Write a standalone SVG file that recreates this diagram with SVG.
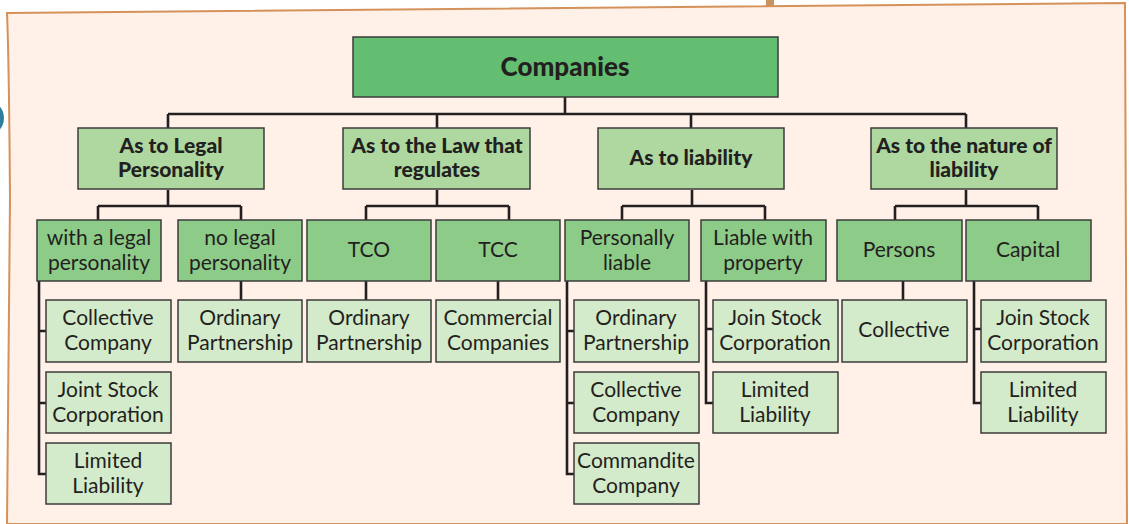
<svg xmlns="http://www.w3.org/2000/svg" width="1129" height="524" viewBox="0 0 1129 524">
  <style>
    .box { stroke: #3b3b3b; stroke-width: 1.5; }
    .root { fill: #63be72; }
    .l1 { fill: #aed8a0; }
    .l2 { fill: #8dcb88; }
    .l3 { fill: #d3ebcb; }
    text { font-family: Lato, "Open Sans", "Liberation Sans", sans-serif; fill: #231f20; text-anchor: middle; }
    .t { font-size: 21px; }
    .b { font-size: 21px; font-weight: 900; }
    .h { font-size: 26px; font-weight: 900; }
    .conn { fill: none; stroke: #231f20; stroke-width: 2.6; stroke-linejoin: miter; }
  </style>

  <!-- white page -->
  <rect x="0" y="0" width="1129" height="524" fill="#ffffff"/>
  <!-- tab above the panel -->
  <rect x="766" y="0" width="8" height="10" fill="#c8935e"/>
  <!-- panel background -->
  <path d="M7,13 L1125,3 L1127,524 L7,524 Q9,300 10,200 Q9,60 7,13 Z" fill="#fff0e8" stroke="#d4925a" stroke-width="2"/>
  <!-- blue marker at the left edge -->
  <circle cx="-14" cy="118" r="18" fill="#2e7e9c"/>

  <!-- connectors -->
  <g id="connectors" class="conn">
    <path d="M565,97 V114 M168,114 H966 M168,114 V128 M437,114 V128 M691,114 V128 M966,114 V128"/>
    <path d="M168,190 V206 M98,206 H241 M98,206 V220 M241,206 V220"/>
    <path d="M437,190 V206 M366,206 H509 M366,206 V220 M509,206 V220"/>
    <path d="M692,190 V206 M622,206 H765 M622,206 V220 M765,206 V220"/>
    <path d="M966,190 V206 M895,206 H1038 M895,206 V220 M1038,206 V220"/>
    <path d="M39,281 V474 H46 M39,331 H46 M39,403 H46"/>
    <path d="M241,281 V300"/>
    <path d="M366,281 V300"/>
    <path d="M498,281 V300"/>
    <path d="M567,281 V474 H574 M567,331 H574 M567,403 H574"/>
    <path d="M706,281 V403 H713 M706,329 H713"/>
    <path d="M903,281 V300"/>
    <path d="M974,281 V403 H981 M974,329 H981"/>
  </g>

  <!-- root -->
  <g id="companies">
    <rect class="box root" x="353" y="37" width="425" height="60"/>
    <text class="h" x="565" y="76">Companies</text>
  </g>

  <!-- first level -->
  <g id="legal-personality">
    <rect class="box l1" x="78" y="128" width="186" height="61"/>
    <text class="b" x="171" y="153">As to Legal</text>
    <text class="b" x="171" y="177">Personality</text>
  </g>
  <g id="law-regulates">
    <rect class="box l1" x="343" y="128" width="187" height="61"/>
    <text class="b" x="437" y="153">As to the Law that</text>
    <text class="b" x="437" y="177">regulates</text>
  </g>
  <g id="liability">
    <rect class="box l1" x="598" y="128" width="186" height="61"/>
    <text class="b" x="691" y="165">As to liability</text>
  </g>
  <g id="nature-liability">
    <rect class="box l1" x="871" y="128" width="186" height="61"/>
    <text class="b" x="964" y="153">As to the nature of</text>
    <text class="b" x="964" y="177">liability</text>
  </g>

  <!-- second level -->
  <g id="with-legal">
    <rect class="box l2" x="37" y="220" width="124" height="61"/>
    <text class="t" x="99" y="245">with a legal</text>
    <text class="t" x="99" y="270">personality</text>
  </g>
  <g id="no-legal">
    <rect class="box l2" x="178" y="220" width="124" height="61"/>
    <text class="t" x="240" y="245">no legal</text>
    <text class="t" x="240" y="270">personality</text>
  </g>
  <g id="tco">
    <rect class="box l2" x="307" y="220" width="124" height="61"/>
    <text class="t" x="369" y="257">TCO</text>
  </g>
  <g id="tcc">
    <rect class="box l2" x="436" y="220" width="124" height="61"/>
    <text class="t" x="498" y="257">TCC</text>
  </g>
  <g id="personally-liable">
    <rect class="box l2" x="565" y="220" width="124" height="61"/>
    <text class="t" x="627" y="245">Personally</text>
    <text class="t" x="627" y="270">liable</text>
  </g>
  <g id="liable-property">
    <rect class="box l2" x="701" y="220" width="125" height="61"/>
    <text class="t" x="763" y="245">Liable with</text>
    <text class="t" x="763" y="270">property</text>
  </g>
  <g id="persons">
    <rect class="box l2" x="837" y="220" width="125" height="61"/>
    <text class="t" x="899" y="257">Persons</text>
  </g>
  <g id="capital">
    <rect class="box l2" x="966" y="220" width="125" height="61"/>
    <text class="t" x="1028" y="257">Capital</text>
  </g>

  <!-- third level: with a legal personality -->
  <g id="lp-collective">
    <rect class="box l3" x="46" y="300" width="125" height="62"/>
    <text class="t" x="108" y="325">Collective</text>
    <text class="t" x="108" y="350">Company</text>
  </g>
  <g id="lp-joint-stock">
    <rect class="box l3" x="46" y="372" width="125" height="61"/>
    <text class="t" x="108" y="397">Joint Stock</text>
    <text class="t" x="108" y="422">Corporation</text>
  </g>
  <g id="lp-limited">
    <rect class="box l3" x="46" y="443" width="125" height="61"/>
    <text class="t" x="108" y="468">Limited</text>
    <text class="t" x="108" y="493">Liability</text>
  </g>

  <!-- third level: single children -->
  <g id="nl-ordinary">
    <rect class="box l3" x="178" y="300" width="124" height="62"/>
    <text class="t" x="240" y="325">Ordinary</text>
    <text class="t" x="240" y="350">Partnership</text>
  </g>
  <g id="tco-ordinary">
    <rect class="box l3" x="307" y="300" width="124" height="62"/>
    <text class="t" x="369" y="325">Ordinary</text>
    <text class="t" x="369" y="350">Partnership</text>
  </g>
  <g id="tcc-commercial">
    <rect class="box l3" x="436" y="300" width="124" height="62"/>
    <text class="t" x="498" y="325">Commercial</text>
    <text class="t" x="498" y="350">Companies</text>
  </g>

  <!-- third level: personally liable -->
  <g id="pl-ordinary">
    <rect class="box l3" x="574" y="300" width="125" height="62"/>
    <text class="t" x="636" y="325">Ordinary</text>
    <text class="t" x="636" y="350">Partnership</text>
  </g>
  <g id="pl-collective">
    <rect class="box l3" x="574" y="372" width="125" height="61"/>
    <text class="t" x="636" y="397">Collective</text>
    <text class="t" x="636" y="422">Company</text>
  </g>
  <g id="pl-commandite">
    <rect class="box l3" x="574" y="443" width="125" height="61"/>
    <text class="t" x="636" y="468">Commandite</text>
    <text class="t" x="636" y="493">Company</text>
  </g>

  <!-- third level: liable with property -->
  <g id="lw-join-stock">
    <rect class="box l3" x="713" y="300" width="125" height="62"/>
    <text class="t" x="775" y="325">Join Stock</text>
    <text class="t" x="775" y="350">Corporation</text>
  </g>
  <g id="lw-limited">
    <rect class="box l3" x="713" y="372" width="125" height="61"/>
    <text class="t" x="775" y="397">Limited</text>
    <text class="t" x="775" y="422">Liability</text>
  </g>

  <!-- third level: persons / capital -->
  <g id="persons-collective">
    <rect class="box l3" x="842" y="300" width="125" height="62"/>
    <text class="t" x="904" y="337">Collective</text>
  </g>
  <g id="cap-join-stock">
    <rect class="box l3" x="981" y="300" width="125" height="62"/>
    <text class="t" x="1043" y="325">Join Stock</text>
    <text class="t" x="1043" y="350">Corporation</text>
  </g>
  <g id="cap-limited">
    <rect class="box l3" x="981" y="372" width="125" height="61"/>
    <text class="t" x="1043" y="397">Limited</text>
    <text class="t" x="1043" y="422">Liability</text>
  </g>
</svg>
